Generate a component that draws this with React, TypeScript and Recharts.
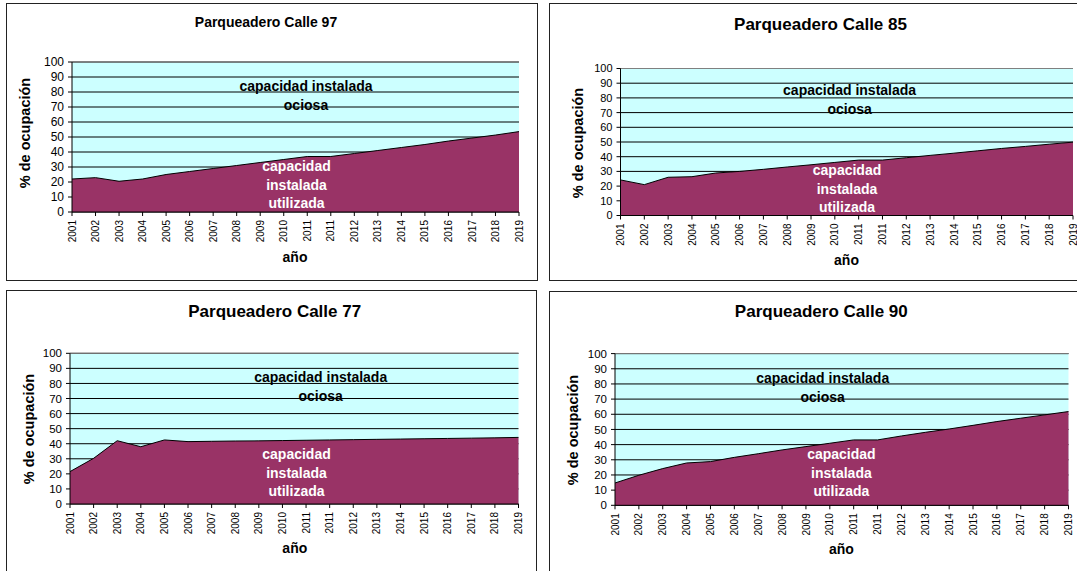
import React from 'react';
import { AreaChart, Area, XAxis, YAxis, CartesianGrid, ReferenceLine } from 'recharts';

// years as printed on the sheet (2011 appears twice)
const YEARS = [
  '2001', '2002', '2003', '2004', '2005', '2006', '2007', '2008', '2009', '2010',
  '2011', '2011', '2012', '2013', '2014', '2015', '2016', '2017', '2018', '2019',
];
const Y_TICKS = [0, 10, 20, 30, 40, 50, 60, 70, 80, 90, 100];

const CALLE_97 = [22, 22.9, 20.5, 22, 25, 27, 29, 31, 33, 35, 37, 37, 39, 41, 43, 45, 47.3, 49.3, 51.3, 53.6];
const CALLE_85 = [24.2, 21, 26, 26.4, 28.9, 30, 31.4, 33, 34.5, 36.1, 37.7, 37.7, 39.3, 40.9, 42.4, 44, 45.6, 47, 48.5, 49.9];
const CALLE_77 = [21.5, 30.3, 42, 38, 42.5, 41.4, 41.6, 41.8, 41.9, 42.1, 42.3, 42.5, 42.7, 42.9, 43.1, 43.3, 43.5, 43.7, 43.9, 44.2];
const CALLE_90 = [14.7, 19.8, 24.2, 27.9, 28.8, 31.6, 34, 36.5, 38.7, 40.9, 43.1, 43.1, 45.7, 48.1, 50.3, 52.7, 55.2, 57.4, 59.6, 61.8];

const FONT = 'Arial, "Liberation Sans", sans-serif';
const IDLE_BG = '#CCFFFF';
const USED_FILL = '#993366';

const PANELS = [
  {
    title: 'Parqueadero Calle 97', values: CALLE_97,
    box: { left: 6, top: 3, width: 532, height: 278 },
    margin: { top: 59, right: 19, bottom: 9, left: 0 }, yWidth: 66, xHeight: 60,
    yFont: 12, xFont: 10, titleFont: 14,
    titlePos: [266, 22], yLabelPos: [25, 133], xLabelPos: [295, 257],
    idlePos: [306, 86], usedPos: [296.5, 166],
  },
  {
    title: 'Parqueadero Calle 85', values: CALLE_85,
    box: { left: 549, top: 3, width: 536, height: 278 },
    margin: { top: 65.5, right: 12, bottom: 10.5, left: 0 }, yWidth: 71.5, xHeight: 55,
    yFont: 11, xFont: 10, titleFont: 17,
    titlePos: [820.5, 24], yLabelPos: [578, 143], xLabelPos: [846.5, 260],
    idlePos: [849.6, 90], usedPos: [847, 170],
  },
  {
    title: 'Parqueadero Calle 77', values: CALLE_77,
    box: { left: 6, top: 290, width: 531, height: 290 },
    margin: { top: 63.3, right: 18.5, bottom: 16, left: 0 }, yWidth: 64, xHeight: 60,
    yFont: 11.5, xFont: 10, titleFont: 17,
    titlePos: [274.7, 311], yLabelPos: [29, 429], xLabelPos: [294.8, 548],
    idlePos: [320.7, 377.3], usedPos: [296.5, 454],
  },
  {
    title: 'Parqueadero Calle 90', values: CALLE_90,
    box: { left: 548.5, top: 290.7, width: 536.5, height: 289.3 },
    margin: { top: 62.6, right: 17, bottom: 15, left: 0 }, yWidth: 66, xHeight: 60,
    yFont: 11.5, xFont: 10, titleFont: 17,
    titlePos: [821.3, 311], yLabelPos: [572.6, 429.7], xLabelPos: [841.4, 549],
    idlePos: [822.7, 378], usedPos: [841.4, 454],
  },
];

const makeYearTick = (fs: number) => (props: any) => {
  const { x, y, payload } = props;
  return (
    <text
      x={x}
      y={y}
      transform={`rotate(-90 ${x} ${y})`}
      textAnchor="end"
      dy={fs * 0.36}
      fontSize={fs}
      fontFamily={FONT}
      fill="#000"
    >
      {payload.value}
    </text>
  );
};

const Txt = ({ x, y, size, color = '#000', rotate = false, children }: any) => (
  <div
    style={{
      position: 'absolute',
      left: x,
      top: y,
      transform: `translate(-50%, -50%)${rotate ? ' rotate(-90deg)' : ''}`,
      fontFamily: FONT,
      fontWeight: 'bold',
      fontSize: size,
      color,
      whiteSpace: 'nowrap',
      lineHeight: 1,
    }}
  >
    {children}
  </div>
);

function Panel({ p }: { p: any }) {
  const data = YEARS.map((year, i) => ({ year, value: p.values[i] }));
  const { box } = p;
  return (
    <>
      <div
        style={{
          position: 'absolute',
          left: box.left,
          top: box.top,
          width: box.width,
          height: box.height,
        }}
      >
        <AreaChart width={box.width} height={box.height} data={data} margin={p.margin}>
          <CartesianGrid vertical={false} stroke="#000" fill={IDLE_BG} fillOpacity={1} />
          <XAxis
            dataKey="year"
            interval={0}
            height={p.xHeight}
            tickSize={4}
            tickMargin={4}
            stroke="#000"
            tick={makeYearTick(p.xFont)}
          />
          <YAxis
            domain={[0, 100]}
            ticks={Y_TICKS}
            interval={0}
            width={p.yWidth}
            tickSize={4}
            tickMargin={4}
            stroke="#000"
            tick={{ fill: '#000', fontSize: p.yFont, fontFamily: FONT }}
          />
          <Area
            type="linear"
            dataKey="value"
            fill={USED_FILL}
            fillOpacity={1}
            stroke="#000"
            strokeWidth={1}
            isAnimationActive={false}
          />
          <ReferenceLine y={100} stroke="#808080" />
          <ReferenceLine x="2019" stroke="#808080" />
        </AreaChart>
        <div
          style={{
            position: 'absolute',
            inset: 0,
            border: '1.5px solid #222',
            pointerEvents: 'none',
          }}
        />
      </div>
      <Txt x={p.titlePos[0]} y={p.titlePos[1]} size={p.titleFont}>{p.title}</Txt>
      <Txt x={p.yLabelPos[0]} y={p.yLabelPos[1]} size={14.5} rotate>% de ocupación</Txt>
      <Txt x={p.xLabelPos[0]} y={p.xLabelPos[1]} size={14}>año</Txt>
      <Txt x={p.idlePos[0]} y={p.idlePos[1]} size={14}>capacidad instalada</Txt>
      <Txt x={p.idlePos[0]} y={p.idlePos[1] + 19} size={14}>ociosa</Txt>
      <Txt x={p.usedPos[0]} y={p.usedPos[1]} size={14} color="#fff">capacidad</Txt>
      <Txt x={p.usedPos[0]} y={p.usedPos[1] + 18.7} size={14} color="#fff">instalada</Txt>
      <Txt x={p.usedPos[0]} y={p.usedPos[1] + 37.4} size={14} color="#fff">utilizada</Txt>
    </>
  );
}

export default function App() {
  return (
    <div
      style={{
        position: 'absolute',
        left: 0,
        top: 0,
        width: 1077,
        height: 571,
        overflow: 'hidden',
        background: '#fff',
      }}
    >
      {PANELS.map((p) => (
        <Panel key={p.title} p={p} />
      ))}
    </div>
  );
}
